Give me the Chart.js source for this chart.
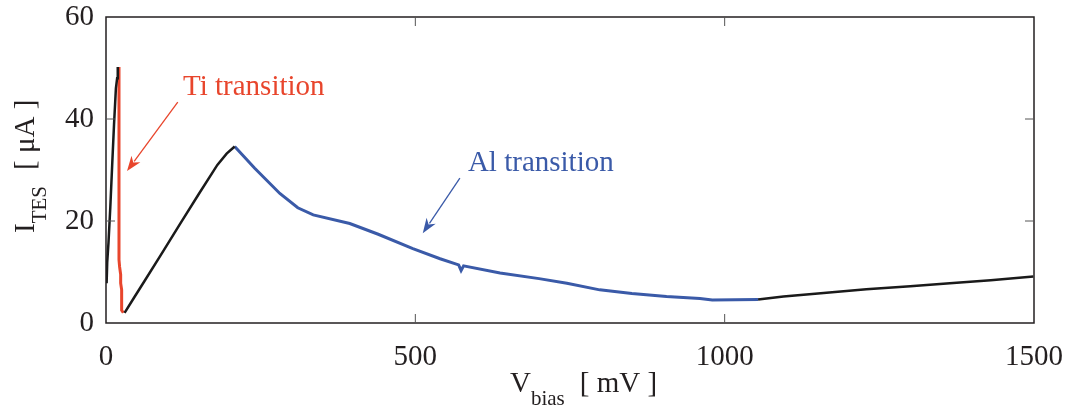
<!DOCTYPE html>
<html>
<head>
<meta charset="utf-8">
<script src="https://cdn.jsdelivr.net/npm/chart.js@4"></script>
<style>
  html, body { margin: 0; padding: 0; background: #fff; }
  #wrap { width: 1070px; height: 408px; }
</style>
</head>
<body>
<div id="wrap"><canvas id="chart" width="1070" height="408"></canvas></div>
<script>
// values (V in mV, I in uA)
const blackX = [1, 2, 4, 7, 10, 13, 16, 18, 19, null, 30, 45, 60, 90, 120, 150, 180, 195, 208, null, 1054, 1095, 1160, 1229, 1300, 1364, 1430, 1499];
const blackY = [7.8, 12, 15.7, 22.8, 31, 39, 46, 48, 50.2, null, 2.0, 4.9, 7.8, 13.6, 19.5, 25.3, 31.0, 33.2, 34.6, null, 4.6, 5.2, 5.9, 6.6, 7.2, 7.8, 8.4, 9.1];

const tiX = [21, 21, 22, 23.7, 23.7, 25.3, 25.3, 28];
const tiY = [50.2, 12.4, 11, 9.5, 7.8, 6.5, 2.5, 2.0];

const alX = [208, 240, 281, 310, 335, 394, 440, 496, 540, 570, 574, 578, 637, 700, 745, 798, 850, 906, 960, 980, 1054];
const alY = [34.6, 30.4, 25.4, 22.6, 21.2, 19.5, 17.4, 14.6, 12.6, 11.4, 10.3, 11.2, 9.8, 8.7, 7.8, 6.5, 5.8, 5.2, 4.8, 4.5, 4.6];

const xTicks = [0, 500, 1000, 1500];
const yTicks = [0, 20, 40, 60];

const serif = "'Liberation Serif', 'Times New Roman', serif";
const RED = '#e8452c';
const BLUE = '#3a5aa8';
const INK = '#231f20';

function pts(xs, ys) {
  return xs.map((x, i) => (x === null ? { x: NaN, y: null } : { x: x, y: ys[i] }));
}

// arrows + labels + axis frame drawn on top
const decor = {
  id: 'decor',
  afterDatasetsDraw(chart) {
    const ctx = chart.ctx;
    const xs = chart.scales.x, ys = chart.scales.y;
    const a = chart.chartArea;
    ctx.save();

    // box
    ctx.strokeStyle = INK;
    ctx.lineWidth = 1.5;
    ctx.strokeRect(a.left, a.top, a.right - a.left, a.bottom - a.top);
    // inward ticks
    const tl = 9;
    ctx.lineWidth = 1;
    ctx.strokeStyle = '#555';
    xTicks.slice(1, -1).forEach(v => {
      const px = xs.getPixelForValue(v);
      ctx.beginPath();
      ctx.moveTo(px, a.bottom); ctx.lineTo(px, a.bottom - tl);
      ctx.moveTo(px, a.top); ctx.lineTo(px, a.top + tl);
      ctx.stroke();
    });
    yTicks.slice(1, -1).forEach(v => {
      const py = ys.getPixelForValue(v);
      ctx.beginPath();
      ctx.moveTo(a.left, py); ctx.lineTo(a.left + tl, py);
      ctx.moveTo(a.right, py); ctx.lineTo(a.right - tl, py);
      ctx.stroke();
    });

    // arrows
    function arrow(x0, y0, x1, y1, color) {
      const p0 = [xs.getPixelForValue(x0), ys.getPixelForValue(y0)];
      const p1 = [xs.getPixelForValue(x1), ys.getPixelForValue(y1)];
      const ang = Math.atan2(p1[1] - p0[1], p1[0] - p0[0]);
      const hl = 15, hw = 5.5;
      ctx.strokeStyle = color; ctx.fillStyle = color; ctx.lineWidth = 1.3;
      ctx.beginPath();
      ctx.moveTo(p0[0], p0[1]);
      ctx.lineTo(p1[0] - Math.cos(ang) * hl * 0.8, p1[1] - Math.sin(ang) * hl * 0.8);
      ctx.stroke();
      ctx.beginPath();
      ctx.moveTo(p1[0], p1[1]);
      ctx.lineTo(p1[0] - Math.cos(ang) * hl - Math.sin(ang) * hw, p1[1] - Math.sin(ang) * hl + Math.cos(ang) * hw);
      ctx.lineTo(p1[0] - Math.cos(ang) * hl * 0.7, p1[1] - Math.sin(ang) * hl * 0.7);
      ctx.lineTo(p1[0] - Math.cos(ang) * hl + Math.sin(ang) * hw, p1[1] - Math.sin(ang) * hl - Math.cos(ang) * hw);
      ctx.closePath();
      ctx.fill();
    }
    arrow(116, 43.3, 34, 29.8, RED);
    arrow(572, 28.4, 512, 17.6, BLUE);

    ctx.font = '29px ' + serif;
    ctx.textBaseline = 'alphabetic';
    ctx.textAlign = 'left';
    ctx.fillStyle = RED;
    ctx.fillText('Ti transition', xs.getPixelForValue(124.5), ys.getPixelForValue(44.7));
    ctx.fillStyle = BLUE;
    ctx.fillText('Al transition', xs.getPixelForValue(585), ys.getPixelForValue(29.8));

    // axis titles with subscripts
    ctx.fillStyle = INK;
    let cx = 510;
    ctx.font = '29px ' + serif;
    ctx.fillText('V', cx, 392);
    cx += ctx.measureText('V').width;
    ctx.font = '21px ' + serif;
    ctx.fillText('bias', cx, 405);
    cx += ctx.measureText('bias').width + 15;
    ctx.font = '29px ' + serif;
    ctx.fillText('[ mV ]', cx, 392);

    ctx.translate(34, 233);
    ctx.rotate(-Math.PI / 2);
    cx = 0;
    ctx.font = '29px ' + serif;
    ctx.fillText('I', cx, 0);
    cx += ctx.measureText('I').width;
    ctx.font = '21px ' + serif;
    ctx.fillText('TES', cx, 12);
    cx += ctx.measureText('TES').width + 16;
    ctx.font = '29px ' + serif;
    ctx.fillText('[ \u03bcA ]', cx, 0);

    ctx.restore();
  }
};

new Chart(document.getElementById('chart'), {
  type: 'line',
  data: {
    datasets: [
      { data: pts(blackX, blackY), borderColor: '#1a1a1a', borderWidth: 2.5, pointRadius: 0, spanGaps: false, tension: 0 },
      { data: pts(alX, alY), borderColor: BLUE, borderWidth: 3, pointRadius: 0, tension: 0 },
      { data: pts(tiX, tiY), borderColor: RED, borderWidth: 3, pointRadius: 0, tension: 0 }
    ]
  },
  options: {
    responsive: false,
    animation: false,
    events: [],
    layout: { padding: { top: 17, right: 36, left: 0, bottom: 0 } },
    plugins: { legend: { display: false }, tooltip: { enabled: false } },
    scales: {
      x: {
        type: 'linear', min: 0, max: 1500,
        afterBuildTicks: s => { s.ticks = xTicks.map(v => ({ value: v })); },
        afterFit: s => { s.height = 85; s.paddingLeft = 0; s.paddingRight = 0; },
        grid: { display: false, drawTicks: false, tickLength: 0 },
        border: { display: false },
        ticks: { color: INK, font: { family: serif, size: 29 }, padding: 17, maxRotation: 0, callback: v => String(v) }
      },
      y: {
        type: 'linear', min: 0, max: 60,
        afterBuildTicks: s => { s.ticks = yTicks.map(v => ({ value: v })); },
        afterFit: s => { s.width = 106; s.paddingTop = 0; s.paddingBottom = 0; },
        grid: { display: false, drawTicks: false, tickLength: 0 },
        border: { display: false },
        ticks: { color: INK, font: { family: serif, size: 29 }, padding: 12, callback: v => String(v) }
      }
    }
  },
  plugins: [decor]
});
</script>
</body>
</html>
